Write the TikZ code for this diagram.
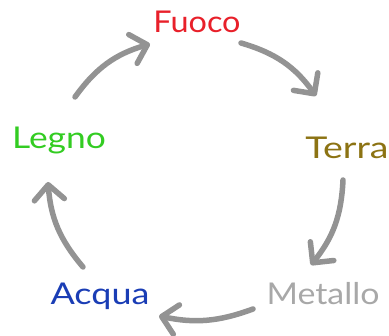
\documentclass[tikz,border=0pt]{standalone}
\usepackage{fontspec}
\setmainfont{Lato}
\usetikzlibrary{arrows.meta}
\definecolor{fuococol}{HTML}{E8202A}
\definecolor{terracol}{HTML}{8C7313}
\definecolor{legnocol}{HTML}{33CC22}
\definecolor{acquacol}{HTML}{1A3DB5}
\definecolor{metallocol}{HTML}{A8A8A8}
\definecolor{cyclegray}{HTML}{939393}
\tikzset{
  element/.style={inner sep=0pt, font=\fontsize{30}{33}\selectfont},
  cycle arrow/.style={draw=cyclegray, line width=5.5pt, line cap=round,
    -{Straight Barb[length=15pt, width=30pt, round]}},
}
\begin{document}
\begin{tikzpicture}[x=1pt, y=-1pt]
  \useasboundingbox (0,0) rectangle (389,336);
  % the five elements
  \node[element, text=fuococol, xscale=1.08]   (fuoco)   at (197,22)  {Fuoco};
  \node[element, text=terracol, xscale=1.25]   (terra)   at (347,148) {Terra};
  \node[element, text=metallocol, xscale=1.13] (metallo) at (323,294) {Metallo};
  \node[element, text=acquacol, xscale=1.2]    (acqua)   at (100,296) {Acqua};
  \node[element, text=legnocol, xscale=1.18]   (legno)   at (59,140)  {Legno};
  % ends of the arrows along the cycle
  \coordinate (s1) at (75,97);   \coordinate (e1) at (150,44);
  \coordinate (s2) at (241,43);  \coordinate (e2) at (316,96);
  \coordinate (s3) at (343,180); \coordinate (e3) at (311,265);
  \coordinate (s4) at (253,309); \coordinate (e4) at (159,316);
  \coordinate (s5) at (83,267);  \coordinate (e5) at (48,182);
  % generating cycle
  \draw[cycle arrow] (s1) to[bend left=19] (e1);
  \draw[cycle arrow] (s2) to[bend left=19] (e2);
  \draw[cycle arrow] (s3) to[bend left=18] (e3);
  \draw[cycle arrow] (s4) to[bend left=16] (e4);
  \draw[cycle arrow] (s5) to[bend left=18] (e5);
\end{tikzpicture}
\end{document}
